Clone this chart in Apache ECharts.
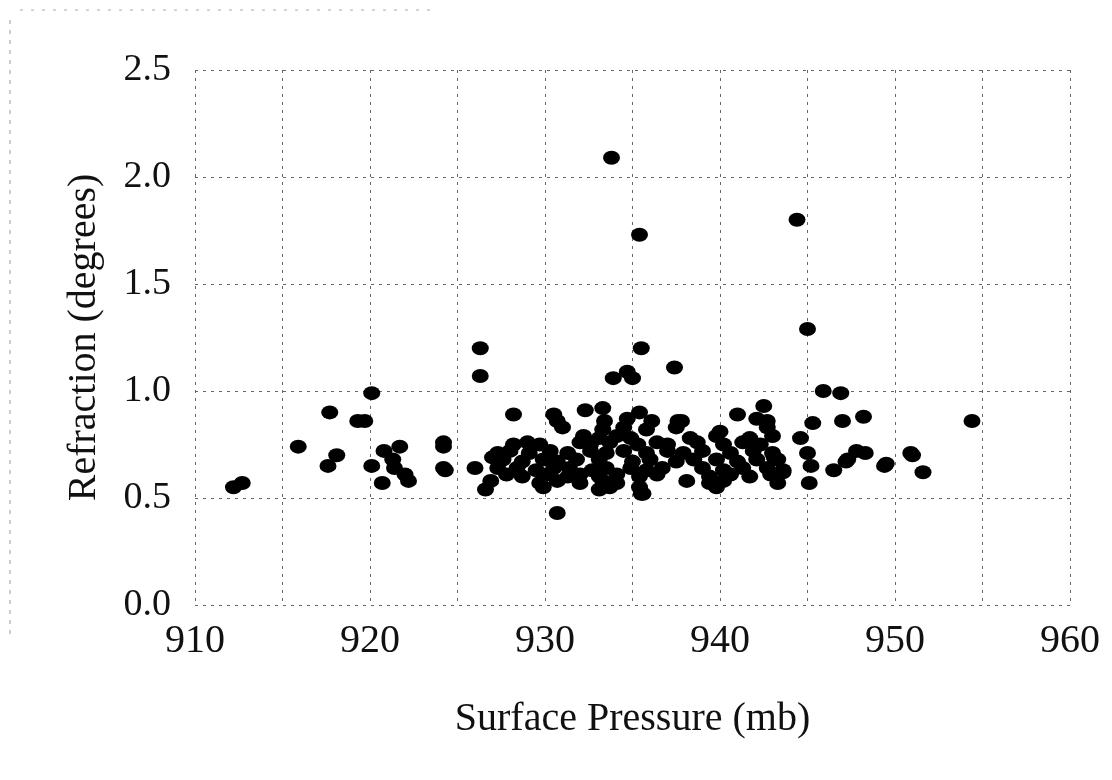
<!DOCTYPE html>
<html>
<head>
<meta charset="utf-8">
<script src="https://cdn.jsdelivr.net/npm/echarts@6/dist/echarts.min.js"></script>
<style>
html,body{margin:0;padding:0;background:#fff;}
#chart{width:1112px;height:780px;}
</style>
</head>
<body>
<div id="chart"></div>
<script>
// X axis ticks (mb) and Y axis ticks (degrees)
const xTicks = [910, 920, 930, 940, 950, 960];
const yTicks = [0.0, 0.5, 1.0, 1.5, 2.0, 2.5];

// [surface pressure (mb), refraction (degrees)]
const outliers = [
  [933.8,2.09],[944.4,1.80],[935.4,1.73],[945.0,1.29],[926.3,1.20],[935.5,1.20],
  [937.4,1.11],[926.3,1.07],[933.9,1.06],[934.7,1.09],[935.0,1.06],[945.9,1.00],
  [946.9,0.99],[920.1,0.99]
];
const leftSparse = [
  [912.2,0.55],[912.7,0.57],[915.9,0.74],[917.7,0.90],[918.1,0.70],[917.6,0.65],
  [919.3,0.86],[919.7,0.86],[920.1,0.65],[920.8,0.72],[921.7,0.74],[921.3,0.68],
  [921.4,0.64],[922.0,0.61],[922.2,0.58],[920.7,0.57],[924.2,0.76],[924.2,0.74],
  [924.3,0.63],[924.2,0.64],[926.0,0.64],[926.6,0.54],[927.0,0.69],[928.2,0.89]
];
const upperBand = [
  [930.5,0.89],[930.7,0.86],[932.3,0.91],[933.3,0.92],[933.4,0.86],[934.7,0.87],
  [935.4,0.90],[936.1,0.86],[937.6,0.86],[942.5,0.93],[941.0,0.89],[942.1,0.87],
  [942.7,0.86],[937.8,0.86],[930.7,0.43],[935.6,0.52]
];
const cluster = [
  [931.0,0.83],[933.3,0.82],[934.5,0.83],[935.8,0.82],[937.5,0.83],[940.0,0.81],[942.7,0.83],
  [932.2,0.79],[933.1,0.78],[934.1,0.79],[934.9,0.78],[938.3,0.78],[939.8,0.79],[941.7,0.78],[943.0,0.79],
  [928.2,0.75],[929.0,0.76],[929.7,0.75],[932.0,0.76],[932.6,0.75],[933.7,0.76],[935.3,0.75],
  [936.4,0.76],[937.0,0.75],[938.7,0.76],[940.2,0.75],[941.3,0.76],[942.3,0.75],
  [927.3,0.71],[928.0,0.72],[929.1,0.71],[930.3,0.72],[931.3,0.71],[932.6,0.72],[933.5,0.71],
  [934.5,0.72],[935.8,0.71],[937.0,0.72],[937.9,0.71],[939.0,0.72],[940.6,0.71],[941.9,0.72],[943.0,0.71],
  [927.6,0.68],[928.7,0.67],[929.9,0.68],[930.7,0.67],[931.8,0.68],[933.1,0.68],[935.0,0.67],
  [936.0,0.68],[937.5,0.67],[938.5,0.68],[939.8,0.68],[941.0,0.67],[942.1,0.68],[943.3,0.68],
  [927.3,0.64],[928.4,0.64],[929.5,0.63],[930.5,0.64],[931.4,0.64],[932.7,0.63],[933.5,0.64],
  [934.9,0.64],[935.8,0.63],[936.7,0.64],[939.0,0.64],[940.2,0.63],[941.3,0.64],[942.7,0.64],[943.6,0.63],
  [927.8,0.61],[928.7,0.60],[930.1,0.61],[931.3,0.60],[932.0,0.61],[933.1,0.60],[934.1,0.61],
  [935.4,0.60],[936.4,0.61],[939.4,0.60],[940.6,0.61],[941.7,0.60],[942.9,0.61],
  [926.9,0.58],[929.7,0.57],[930.7,0.58],[932.0,0.57],[933.3,0.58],[934.1,0.57],[938.1,0.58],
  [939.4,0.57],[940.2,0.58],[943.3,0.57],
  [929.9,0.55],[933.1,0.54],[933.7,0.55],[935.4,0.55],[939.8,0.55],
  [935.5,0.52]
];
const rightSparse = [
  [944.6,0.78],[945.3,0.85],[945.0,0.71],[945.2,0.65],[945.1,0.57],[943.6,0.62],
  [943.1,0.69],[947.0,0.86],[948.2,0.88],[954.4,0.86],[947.8,0.72],[948.3,0.71],
  [947.3,0.68],[947.2,0.67],[950.9,0.71],[951.0,0.70],[949.4,0.65],[949.5,0.66],
  [946.5,0.63],[951.6,0.62]
];

const allPoints = [].concat(outliers, leftSparse, upperBand, cluster, rightSparse);

const font = '"Liberation Serif", "Times New Roman", serif';
const gridLine = { show: true, lineStyle: { color: '#666', width: 1, type: [3, 5] } };

const chart = echarts.init(document.getElementById('chart'));
chart.setOption({
  backgroundColor: '#fff',
  animation: false,
  grid: { left: 195, right: 42, top: 70, bottom: 175 },
  xAxis: {
    type: 'value',
    min: xTicks[0],
    max: xTicks[xTicks.length - 1],
    interval: 5,
    name: 'Surface Pressure (mb)',
    nameLocation: 'middle',
    nameGap: 94,
    nameTextStyle: { fontFamily: font, fontSize: 40, color: '#111' },
    axisLine: { show: false },
    axisTick: { show: false },
    axisLabel: {
      margin: 16,
      fontFamily: font, fontSize: 40, color: '#111',
      formatter: v => (xTicks.indexOf(v) >= 0 ? String(v) : '')
    },
    splitLine: gridLine
  },
  yAxis: {
    type: 'value',
    min: yTicks[0],
    max: yTicks[yTicks.length - 1],
    interval: 0.5,
    name: 'Refraction (degrees)',
    nameLocation: 'middle',
    nameGap: 91,
    nameTextStyle: { fontFamily: font, fontSize: 40, color: '#111' },
    axisLine: { show: false },
    axisTick: { show: false },
    axisLabel: {
      margin: 24,
      fontFamily: font, fontSize: 38, color: '#111',
      formatter: v => v.toFixed(1)
    },
    splitLine: gridLine
  },
  graphic: [
    { type: 'line', shape: { x1: 10, y1: 20, x2: 10, y2: 640 }, style: { stroke: '#999', lineWidth: 1, lineDash: [4, 6] } },
    { type: 'line', shape: { x1: 20, y1: 10, x2: 430, y2: 10 }, style: { stroke: '#aaa', lineWidth: 1, lineDash: [3, 8] } }
  ],
  series: [{
    type: 'scatter',
    data: allPoints,
    symbol: 'circle',
    symbolSize: [17, 14],
    itemStyle: { color: '#000', opacity: 1 }
  }]
});
</script>
</body>
</html>
